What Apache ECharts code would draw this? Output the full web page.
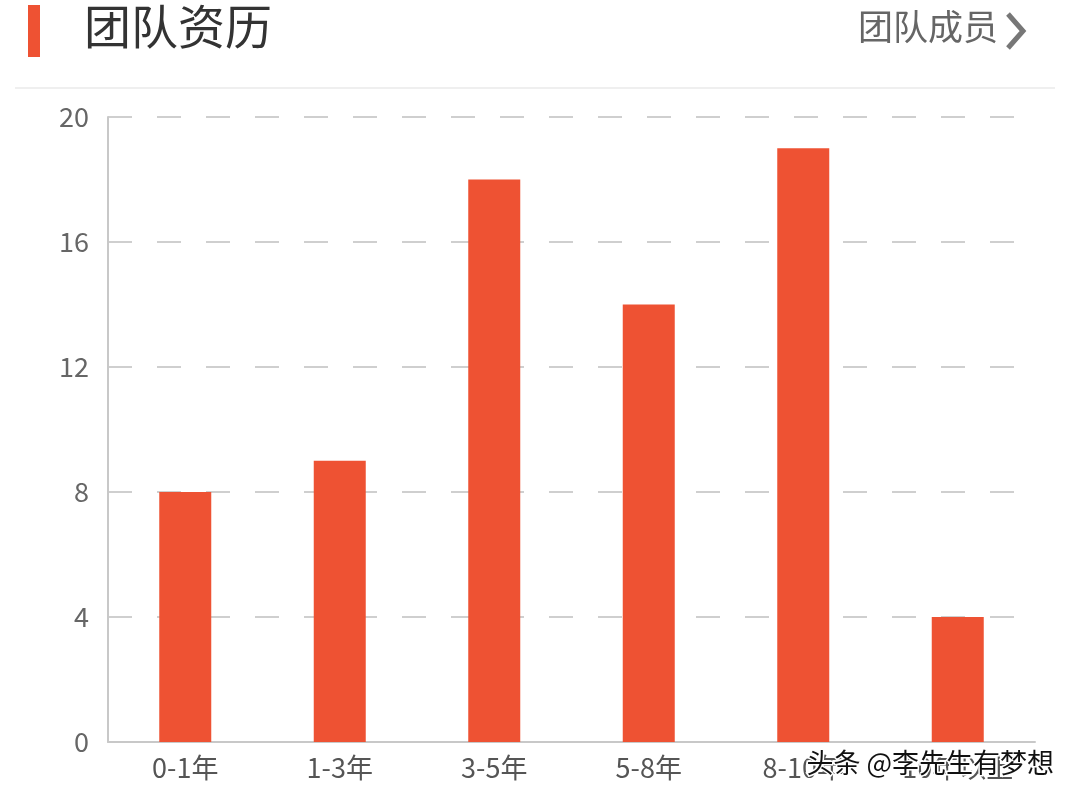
<!DOCTYPE html>
<html><head><meta charset="utf-8">
<script src="https://cdn.jsdelivr.net/npm/echarts@6/dist/echarts.min.js"></script>
<style>html,body{margin:0;padding:0;background:#fff}#c{width:1080px;height:801px}</style>
</head><body><div id="c"></div>
<script>
const categories = ['0-1年','1-3年','3-5年','5-8年','8-10年','10年以上'];
const values = [8, 9, 18, 14, 19, 4];
const yTicks = [0, 4, 8, 12, 16, 20];
const titleText = '团队资历';
const linkText = '团队成员';
const watermark = '头条 @李先生有梦想';

const chart = echarts.init(document.getElementById('c'));
const font = '"Noto Sans CJK SC","Noto Sans",sans-serif';
chart.setOption({
  backgroundColor: '#fff',
  animation: false,
  grid: { left: 108, right: 45, top: 117, bottom: 59, containLabel: false },
  xAxis: {
    type: 'category', data: categories,
    axisLine: { lineStyle: { color: '#c8c8c8', width: 2 } },
    axisTick: { show: false },
    axisLabel: { color: '#555', fontSize: 27, fontFamily: font, margin: 12 }
  },
  yAxis: {
    type: 'value', min: yTicks[0], max: yTicks[yTicks.length-1], interval: 4,
    axisLine: { show: true, lineStyle: { color: '#c8c8c8', width: 2 } },
    axisTick: { show: false },
    axisLabel: { color: '#666', fontSize: 27, fontFamily: font, margin: 19 },
    splitLine: { lineStyle: { color: '#cfcfcf', width: 2, type: [24, 25], dashOffset: 0 } }
  },
  series: [{
    type: 'bar', data: values, barWidth: 52,
    itemStyle: { color: '#ee5233' }
  }],
  graphic: [
    { type: 'rect', shape: { x: 28, y: 5, width: 12, height: 52 }, style: { fill: '#ee5233' } },
    { type: 'text', left: 84, top: 3, style: { text: titleText, fontSize: 47, fontFamily: font, fill: '#333' } },
    { type: 'text', left: 858, top: 9, style: { text: linkText, fontSize: 35, fontFamily: font, fill: '#666' } },
    { type: 'polyline', shape: { points: [[1008, 14], [1023, 31], [1008, 48]] }, style: { stroke: '#777', lineWidth: 5, fill: null } },
    { type: 'line', shape: { x1: 15, y1: 88, x2: 1055, y2: 88 }, style: { stroke: '#efefef', lineWidth: 2 } },
    { type: 'text', left: 805, top: 748, z: 100, style: { text: watermark, fontSize: 27, fontFamily: font, fill: '#111', stroke: '#fff', lineWidth: 3 } }
  ]
});
</script></body></html>
